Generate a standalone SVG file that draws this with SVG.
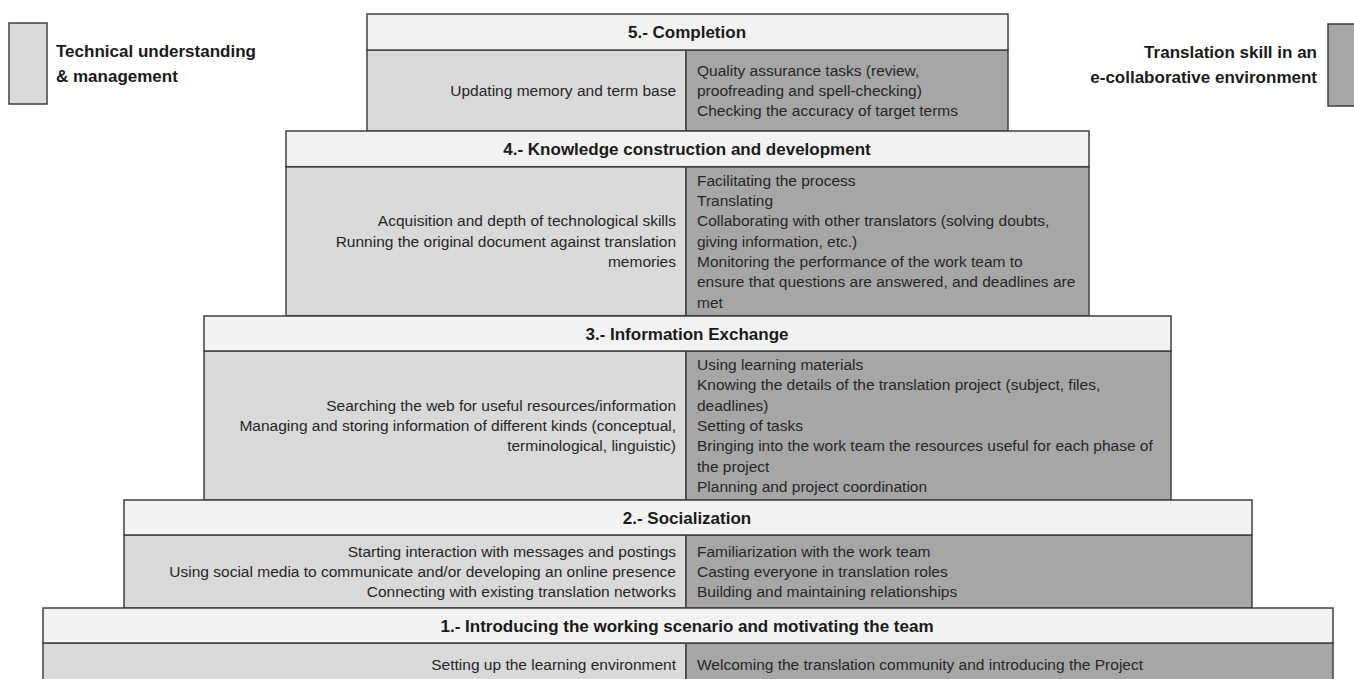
<svg xmlns="http://www.w3.org/2000/svg" width="1354" height="679" viewBox="0 0 1354 679">
<style>
.hd{fill:#f2f2f2;stroke:#404040;stroke-width:1.5}
.lb{fill:#d9d9d9;stroke:#404040;stroke-width:1.5}
.rb{fill:#a6a6a6;stroke:#404040;stroke-width:1.5}
.sp{stroke:#404040;stroke-width:1}
.ht{font-family:"Liberation Sans",Arial,sans-serif;font-weight:bold;font-size:17px;fill:#1a1a1a;text-anchor:middle}
.lg{font-family:"Liberation Sans",Arial,sans-serif;font-weight:bold;font-size:17px;fill:#1a1a1a}
.lt{font-family:"Liberation Sans",Arial,sans-serif;font-size:15.5px;fill:#262626;text-anchor:end}
.rt{font-family:"Liberation Sans",Arial,sans-serif;font-size:15.5px;fill:#262626}
</style>
<rect width="1354" height="679" fill="#ffffff"/>
<g id="legend-left">
<rect x="9" y="23" width="38" height="81" class="lb"/>
<text class="lg" x="56" y="57">Technical understanding</text>
<text class="lg" x="56" y="82">&amp; management</text>
</g>
<g id="legend-right">
<rect x="1328" y="24" width="40" height="82" class="rb"/>
<text class="lg" x="1317" y="58" text-anchor="end">Translation skill in an</text>
<text class="lg" x="1317" y="83" text-anchor="end">e-collaborative environment</text>
</g>
<g id="level5">
<rect x="367" y="50" width="319" height="81" class="lb"/>
<rect x="686" y="50" width="322" height="81" class="rb"/>
<rect x="367" y="14" width="641" height="36" class="hd"/>
<text class="ht" x="687" y="38">5.- Completion</text>
<text class="lt" x="676" y="96">Updating memory  and term base</text>
<text class="rt" x="697" y="75.7">Quality assurance tasks (review,</text>
<text class="rt" x="697" y="96">proofreading  and spell-checking)</text>
<text class="rt" x="697" y="116.3">Checking the accuracy of target terms</text>
</g>
<g id="level4">
<rect x="286" y="166.7" width="400" height="149" class="lb"/>
<rect x="686" y="166.7" width="403" height="149" class="rb"/>
<rect x="286" y="131" width="803" height="35.7" class="hd"/>
<text class="ht" x="687" y="155">4.- Knowledge construction and development</text>
<text class="lt" x="676" y="226.4">Acquisition and depth of technological skills</text>
<text class="lt" x="676" y="246.7">Running the original document  against translation</text>
<text class="lt" x="676" y="267">memories</text>
<text class="rt" x="697" y="185.8">Facilitating the process</text>
<text class="rt" x="697" y="206.1">Translating</text>
<text class="rt" x="697" y="226.4">Collaborating with other translators (solving doubts,</text>
<text class="rt" x="697" y="246.7">giving information, etc.)</text>
<text class="rt" x="697" y="267">Monitoring  the performance  of the work team to</text>
<text class="rt" x="697" y="287.3">ensure that questions are answered, and deadlines are</text>
<text class="rt" x="697" y="307.6">met</text>
</g>
<g id="level3">
<rect x="204" y="351" width="482" height="149" class="lb"/>
<rect x="686" y="351" width="485" height="149" class="rb"/>
<rect x="204" y="316" width="967" height="35" class="hd"/>
<text class="ht" x="687" y="339.5">3.- Information Exchange</text>
<text class="lt" x="676" y="410.7">Searching the web for useful resources/information</text>
<text class="lt" x="676" y="431">Managing and storing information  of different kinds (conceptual,</text>
<text class="lt" x="676" y="451.3">terminological, linguistic)</text>
<text class="rt" x="697" y="370.1">Using learning materials</text>
<text class="rt" x="697" y="390.4">Knowing  the details of the translation project (subject, files,</text>
<text class="rt" x="697" y="410.7">deadlines)</text>
<text class="rt" x="697" y="431">Setting of tasks</text>
<text class="rt" x="697" y="451.3">Bringing into the work  team the resources useful for each phase of</text>
<text class="rt" x="697" y="471.6">the project</text>
<text class="rt" x="697" y="491.9">Planning and project coordination</text>
</g>
<g id="level2">
<rect x="124" y="535" width="562" height="73" class="lb"/>
<rect x="686" y="535" width="566" height="73" class="rb"/>
<rect x="124" y="500" width="1128" height="35" class="hd"/>
<text class="ht" x="687" y="523.5">2.- Socialization</text>
<text class="lt" x="676" y="556.7">Starting interaction with messages and postings</text>
<text class="lt" x="676" y="577">Using social media to communicate and/or developing an online presence</text>
<text class="lt" x="676" y="597.3">Connecting with existing translation networks</text>
<text class="rt" x="697" y="556.7">Familiarization with the work team</text>
<text class="rt" x="697" y="577">Casting everyone in translation roles</text>
<text class="rt" x="697" y="597.3">Building and maintaining relationships</text>
</g>
<g id="level1">
<rect x="43" y="643" width="643" height="50" class="lb"/>
<rect x="686" y="643" width="647" height="50" class="rb"/>
<rect x="43" y="608" width="1290" height="35" class="hd"/>
<text class="ht" x="687" y="631.5">1.- Introducing the working scenario and motivating the team</text>
<text class="lt" x="676" y="669.5">Setting up the learning environment</text>
<text class="rt" x="697" y="669.5">Welcoming the translation community  and introducing the Project</text>
</g>
<g id="connectors"/>
</svg>
